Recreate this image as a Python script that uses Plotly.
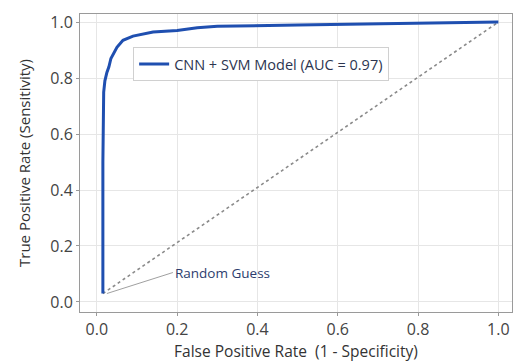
import plotly.graph_objects as go

# ROC curve values
fpr = [0.015, 0.015, 0.017, 0.02, 0.025, 0.03, 0.035, 0.04, 0.05, 0.065, 0.09, 0.14, 0.2, 0.25, 0.3, 0.5, 0.7, 0.9, 1.0]
tpr = [0.03, 0.5, 0.75, 0.79, 0.82, 0.84, 0.87, 0.885, 0.91, 0.935, 0.95, 0.965, 0.97, 0.98, 0.985, 0.99, 0.995, 0.998, 1.0]
diag_x = [0.015, 1.0]
diag_y = [0.03, 1.0]
ticks = [0.0, 0.2, 0.4, 0.6, 0.8, 1.0]
tick_text = ["0.0", "0.2", "0.4", "0.6", "0.8", "1.0"]

FONT = "Open Sans"
fig = go.Figure()
fig.add_trace(go.Scatter(x=diag_x, y=diag_y, mode="lines", showlegend=False,
                         line=dict(color="#8a8a8a", width=1.6, dash="dot")))
fig.add_trace(go.Scatter(x=fpr, y=tpr, mode="lines", name="CNN + SVM Model (AUC = 0.97)",
                         line=dict(color="#1f4fb0", width=3)))

fig.add_annotation(x=diag_x[0] + 0.01, y=diag_y[0], xref="x", yref="y",
                   text="Random Guess", showarrow=True, arrowhead=0, arrowwidth=1,
                   arrowcolor="#a0a0a0", ax=66, ay=-21, xanchor="left",
                   font=dict(family=FONT, size=13.5, color="#2c3d6e"))

axis_common = dict(showline=True, linecolor="#9a9a9a", linewidth=1, mirror=True,
                   showgrid=True, gridcolor="#e6e6e6", gridwidth=1,
                   ticks="outside", ticklen=3, tickcolor="#9a9a9a",
                   tickvals=ticks, ticktext=tick_text, zeroline=False,
                   automargin=False,
                   tickfont=dict(family=FONT, size=16, color="#444444"))

fig.update_layout(
    width=514, height=362,
    margin=dict(l=80, r=2, t=14, b=50),
    paper_bgcolor="white", plot_bgcolor="white",
    font=dict(family=FONT, color="#333333"),
    xaxis=dict(range=[-0.042, 1.034],
               title=dict(text="False Positive Rate  (1 - Specificity)", standoff=4,
                          font=dict(family=FONT, size=15.5, color="#333333")),
               **axis_common),
    yaxis=dict(range=[-0.036, 1.029],
               title=dict(text="True Positive Rate (Sensitivity)", standoff=16,
                          font=dict(family=FONT, size=15, color="#333333")),
               **axis_common),
    legend=dict(x=0.123, y=0.889, xanchor="left", yanchor="top",
                bgcolor="white", bordercolor="#d0d0d0", borderwidth=1,
                font=dict(family=FONT, size=14.5, color="#2c3550")),
    showlegend=True,
)

fig.write_html("out.html", config={"displayModeBar": False},
               post_script="document.body.style.margin='0';document.body.style.overflow='hidden';")
